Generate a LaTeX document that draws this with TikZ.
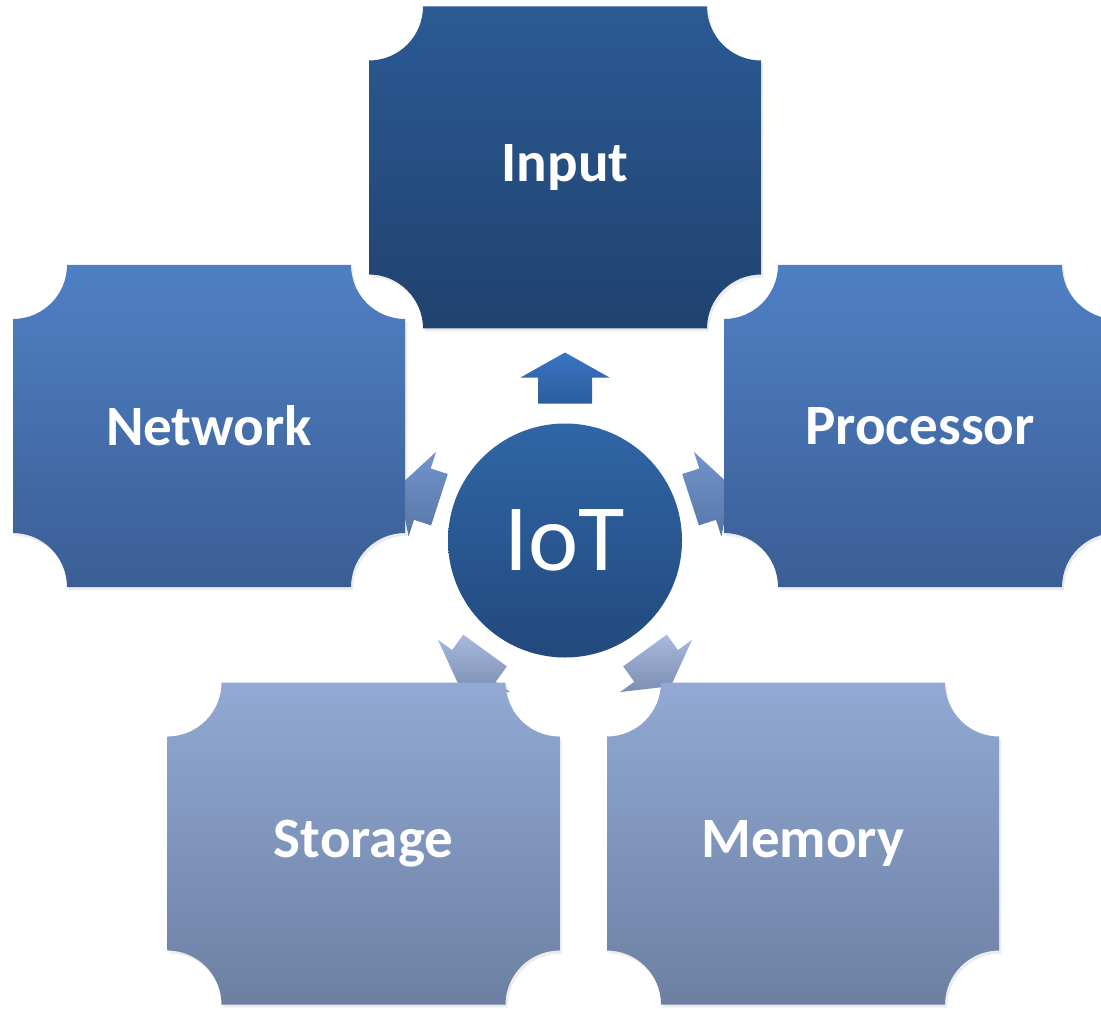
\documentclass[tikz,border=0pt]{standalone}
\usepackage{fontspec}
\setmainfont{Carlito}
\usepackage{xcolor}
\usetikzlibrary{calc,shadows}

\definecolor{inputtop}{HTML}{2B5A94}
\definecolor{inputbot}{HTML}{20426F}
\definecolor{midtop}{HTML}{4F80C4}
\definecolor{midbot}{HTML}{3B5E95}
\definecolor{lowtop}{HTML}{91A9D4}
\definecolor{lowbot}{HTML}{6D80A2}
\definecolor{hubtop}{HTML}{3066A6}
\definecolor{hubbot}{HTML}{22497C}
\definecolor{uptop}{HTML}{3A75C1}
\definecolor{upbot}{HTML}{2C5C9D}
\definecolor{sidetop}{HTML}{7294CC}
\definecolor{sidebot}{HTML}{5876A8}
\definecolor{downtop}{HTML}{A7B9DD}
\definecolor{downbot}{HTML}{7B8DB0}

\begin{document}
\begin{tikzpicture}[x=0.5pt,y=0.5pt,
    boxtext/.style={text=white,font=\fontsize{28.5}{34}\selectfont\bfseries},
    hub/.style={circle,minimum size=117pt,inner sep=0pt,text=white,
        top color=hubtop,bottom color=hubbot,
        font=\fontsize{47.5}{56}\selectfont}]
    \useasboundingbox (0,0) rectangle (1101,1008);
    \clip (0,0) rectangle (1101,1008);

    % Box half sizes and corner cut
    \def\bw{196}
    \def\bh{161}
    \def\br{54}

    % Centre
    \node[hub] (iot) at (565,467.5) {IoT};

    % Block arrows round the centre: angle / base / neck / tip
    \foreach \a/\b/\n/\t/\tc/\bc in {90/137/163/188/uptop/upbot,
                            162/132/150/175/sidetop/sidebot,
                            18/132/150/175/sidetop/sidebot,
                            234/136/155/180/downtop/downbot,
                            306/136/155/180/downtop/downbot}{
        \begin{scope}[shift={(iot.center)},rotate=\a]
            \coordinate (s1) at (\b,-27);
            \coordinate (s2) at (\n,-27);
            \coordinate (s3) at (\n,-44.5);
            \coordinate (s4) at (\t,0);
            \coordinate (s5) at (\n,44.5);
            \coordinate (s6) at (\n,27);
            \coordinate (s7) at (\b,27);
        \end{scope}
        \shade[top color=\tc,bottom color=\bc]
            (s1) -- (s2) -- (s3) -- (s4) -- (s5) -- (s6) -- (s7) -- cycle;
    }

    % Boxes with scooped corners
    \foreach \name/\x/\y/\tc/\bc/\txt in {
            input/565/840.5/inputtop/inputbot/Input,
            network/209/582/midtop/midbot/Network,
            processor/920/582/midtop/midbot/Processor,
            storage/363.5/164.5/lowtop/lowbot/Storage,
            memory/803/164.5/lowtop/lowbot/Memory}{
        \shade[top color=\tc,bottom color=\bc,
               drop shadow={opacity=0.15,shadow xshift=1pt,shadow yshift=-1.5pt}]
            (\x-\bw,\y-\bh+\br) -- (\x-\bw,\y+\bh-\br)
            arc[start angle=270,end angle=360,radius=\br]
            -- (\x+\bw-\br,\y+\bh)
            arc[start angle=180,end angle=270,radius=\br]
            -- (\x+\bw,\y-\bh+\br)
            arc[start angle=90,end angle=180,radius=\br]
            -- (\x-\bw+\br,\y-\bh)
            arc[start angle=0,end angle=90,radius=\br] -- cycle;
        \node[boxtext] (\name) at (\x,\y) {\txt};
    }
\end{tikzpicture}
\end{document}
